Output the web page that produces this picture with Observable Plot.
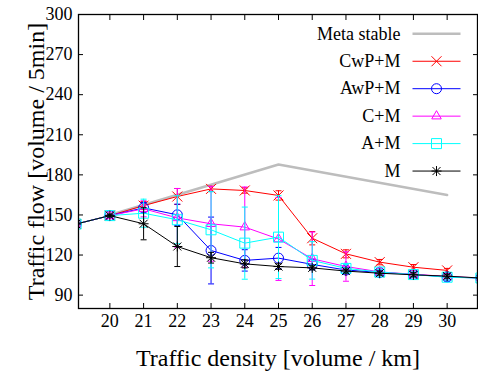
<!DOCTYPE html>
<html><head><meta charset="utf-8">
<script src="https://cdn.jsdelivr.net/npm/d3@7"></script>
<script src="https://cdn.jsdelivr.net/npm/@observablehq/plot@0.6"></script>
<style>
html,body{margin:0;padding:0;background:#fff;}
#chart{width:478px;height:377px;}
</style></head><body><div id="chart"></div>
<script>
// ---- data ----
const density = [19, 20, 21, 22, 23, 24, 25, 26, 27, 28, 29, 30, 31];
const xTicks = [20, 21, 22, 23, 24, 25, 26, 27, 28, 29, 30];
const yTicks = [90, 120, 150, 180, 210, 240, 270, 300];
const xTitle = "Traffic density [volume / km]";
const yTitle = "Traffic flow [volume / 5min]";

const metaName = "Meta stable";
const metaDensity = [20, 25, 30];
const metaFlow = [150, 187.8, 165];

const seriesNames = ["CwP+M", "AwP+M", "C+M", "A+M", "M"];
const seriesColors = ["#ff0000", "#0000ff", "#ff00ff", "#00ffff", "#000000"];

const cwpFlow = [143.2, 149.5, 157, 163.8, 169.5, 168.3, 164.6, 132.6, 120.9, 114.7, 110.9, 108.5, null];
const cwpErr  = [1, 1, 3, 6, 2, 2, 3.5, 5, 3, 2, 2, 1.5, 0];
const awpFlow = [143.2, 149.5, 155.3, 150.1, 123.4, 116, 117.7, 113, 108.8, 107, 105.5, 103.6, 102.8];
const awpErr  = [1, 1, 4, 8, 25, 8, 8, 4, 2, 1.5, 1.5, 3, 0];
const cmFlow  = [143.2, 149.5, 154.6, 147.8, 143.4, 140.9, 132, 117.2, 111.4, 107.4, 105.6, 104, 102.8];
const cmErr   = [1, 1, 6, 22, 28, 30, 31, 20, 11, 2, 2, 2, 0];
const amFlow  = [143.2, 149.5, 151.3, 146.4, 138.9, 128.9, 133.4, 116, 110, 107.3, 105.4, 103.4, 102.8];
const amErr   = [1, 1, 10.5, 18, 28.5, 27, 31, 14, 3, 2, 2, 2, 0];
const mFlow   = [143.2, 149.5, 143.4, 126.4, 118, 113.4, 111.4, 110.4, 108, 106.4, 105.2, 104.2, 102.8];
const mErr    = [1, 1, 12, 15, 4, 3, 2, 1.5, 1.5, 1.5, 1.5, 1.5, 0];

const seriesFlow = [cwpFlow, awpFlow, cmFlow, amFlow, mFlow];
const seriesErr = [cwpErr, awpErr, cmErr, amErr, mErr];

// ---- symbols (gnuplot-like point types) ----
const rad = s => Math.sqrt(s / Math.PI);
const symCross = {draw(c, s){const r = rad(s); c.moveTo(-r,-r); c.lineTo(r,r); c.moveTo(-r,r); c.lineTo(r,-r);}};
const symCircle = {draw(c, s){const r = rad(s); c.moveTo(r,0); c.arc(0,0,r,0,2*Math.PI);}};
const symTriangle = {draw(c, s){const r = rad(s)*1.1; const h = r*Math.sqrt(3)/2; c.moveTo(0,-r); c.lineTo(h, r/2); c.lineTo(-h, r/2); c.closePath();}};
const symSquare = {draw(c, s){const r = rad(s); c.rect(-r,-r,2*r,2*r);}};
const symStar = {draw(c, s){const r = rad(s); const d = r*0.8; c.moveTo(-r,0); c.lineTo(r,0); c.moveTo(0,-r); c.lineTo(0,r); c.moveTo(-d,-d); c.lineTo(d,d); c.moveTo(-d,d); c.lineTo(d,-d);}};
const symHLine = {draw(c, s){const r = rad(s); c.moveTo(-r,0); c.lineTo(r,0);}};
const seriesSymbols = [symCross, symCircle, symTriangle, symSquare, symStar];

const font = "Liberation Serif, Times New Roman, serif";
const marks = [];

// meta stable line
const metaRows = metaDensity.map((d, i) => ({x: d, y: metaFlow[i]}));
marks.push(Plot.line(metaRows, {x: "x", y: "y", stroke: "#bdbdbd", strokeWidth: 2.5, clip: true}));

seriesNames.forEach((name, i) => {
  const color = seriesColors[i];
  const rows = density.map((d, j) => ({x: d, y: seriesFlow[i][j], e: seriesErr[i][j]})).filter(r => r.y != null);
  marks.push(Plot.line(rows, {x: "x", y: "y", stroke: color, strokeWidth: 1, clip: true}));
  marks.push(Plot.ruleX(rows, {x: "x", y1: r => r.y - r.e, y2: r => r.y + r.e, stroke: color, strokeWidth: 1, clip: true}));
  marks.push(Plot.dot(rows, {x: "x", y: r => r.y - r.e, symbol: symHLine, r: 3, stroke: color, fill: "none", strokeWidth: 1, clip: true}));
  marks.push(Plot.dot(rows, {x: "x", y: r => r.y + r.e, symbol: symHLine, r: 3, stroke: color, fill: "none", strokeWidth: 1, clip: true}));
  marks.push(Plot.dot(rows, {x: "x", y: "y", symbol: seriesSymbols[i], r: 5, stroke: color, fill: "none", strokeWidth: 1, clip: true}));
});

// frame & axes
marks.push(Plot.frame({stroke: "#000", strokeWidth: 1.3}));
marks.push(Plot.axisX(xTicks, {anchor: "bottom", tickSize: -5, tickPadding: 11, fontSize: 18, label: null}));
marks.push(Plot.axisX(xTicks, {anchor: "top", tickSize: -5, fill: "none", label: null}));
marks.push(Plot.axisY(yTicks, {anchor: "left", tickSize: -5, tickPadding: 11, fontSize: 18, label: null}));
marks.push(Plot.axisY(yTicks, {anchor: "right", tickSize: -5, fill: "none", label: null}));

// titles
marks.push(Plot.text([xTitle], {text: d => d, frameAnchor: "bottom", dy: 50, lineAnchor: "middle", textAnchor: "middle", fontSize: 24}));
marks.push(Plot.text([yTitle], {text: d => d, frameAnchor: "left", dx: -42, rotate: -90, lineAnchor: "middle", textAnchor: "middle", fontSize: 24}));

// legend
const legendNames = [metaName, ...seriesNames];
const legendColors = ["#bdbdbd", ...seriesColors];
legendNames.forEach((name, i) => {
  const dy = 19.3 + i * 27.45;
  marks.push(Plot.text([name], {text: d => d, frameAnchor: "top-right", dx: -77, dy, textAnchor: "end", lineAnchor: "middle", fontSize: 18}));
  marks.push(Plot.dot([name], {frameAnchor: "top-right", dx: -41, dy, symbol: symHLine, r: 24, stroke: legendColors[i], fill: "none", strokeWidth: i === 0 ? 2.5 : 1}));
  if (i > 0) marks.push(Plot.dot([name], {frameAnchor: "top-right", dx: -41, dy, symbol: seriesSymbols[i - 1], r: 5, stroke: legendColors[i], fill: "none", strokeWidth: 1}));
});

const chart = Plot.plot({
  width: 478,
  height: 377,
  marginLeft: 78,
  marginRight: 1,
  marginTop: 14,
  marginBottom: 69,
  style: {fontFamily: font, background: "#fff", color: "#000"},
  x: {domain: [19.07, 30.9], label: null},
  y: {domain: [80, 300], label: null},
  marks
});
document.getElementById("chart").appendChild(chart);
</script>
</body></html>
